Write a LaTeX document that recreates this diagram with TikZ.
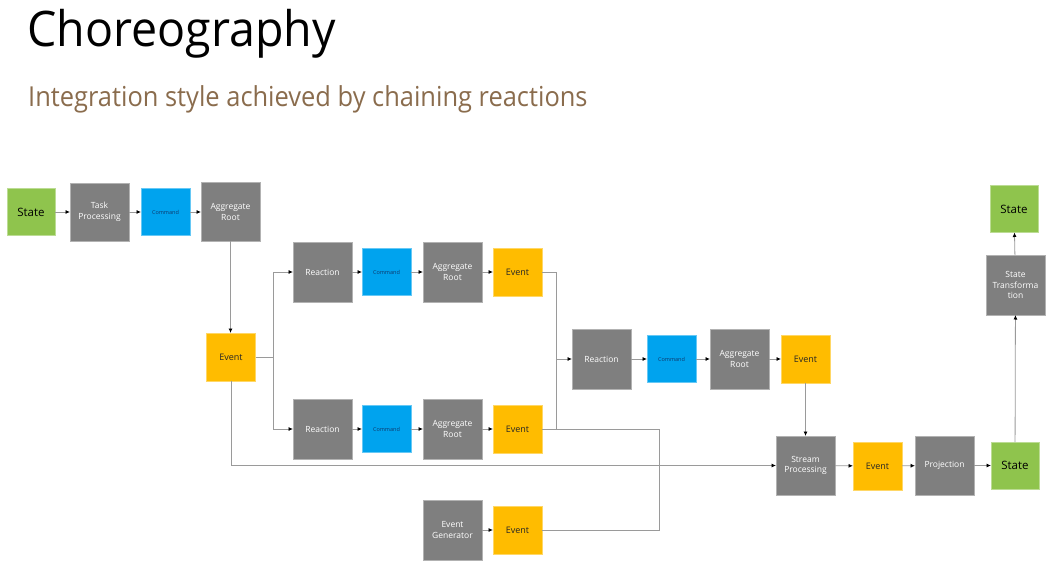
\documentclass[tikz,border=0pt]{standalone}
\usepackage{fontspec}
\setmainfont{Open Sans}
\usetikzlibrary{arrows.meta}
\definecolor{cgreen}{HTML}{8FC44D}
\definecolor{cgray}{HTML}{7F7F7F}
\definecolor{cblue}{HTML}{00A3EE}
\definecolor{corange}{HTML}{FFBC00}
\definecolor{csub}{HTML}{8A6C4D}
\definecolor{cline}{HTML}{9A9A9A}
\definecolor{cmdtext}{HTML}{0E3A6E}
\tikzset{
  base/.style={inner sep=0pt, outer sep=0pt, align=center, line width=0.6pt},
  graybox/.style={base, fill=cgray, draw=cgray!60!white, minimum width=59pt, minimum height=59pt, text=white, font=\fontsize{8.5}{10.5}\selectfont},
  cmdbox/.style={base, fill=cblue, draw=cblue!60!white, minimum width=49pt, minimum height=47pt, text=cmdtext, font=\fontsize{5.5}{7}\selectfont},
  evtbox/.style={base, fill=corange, draw=corange!60!white, minimum width=49pt, minimum height=48pt, text=black!85, font=\fontsize{9}{11}\selectfont},
  statebox/.style={base, fill=cgreen, draw=cgreen!60!white, minimum width=48pt, minimum height=47pt, text=black, font=\fontsize{11.5}{13}\selectfont},
  arr/.style={draw=cline, line width=0.8pt, -{Latex[length=4.5pt,width=4pt,black]}},
  ln/.style={draw=cline, line width=0.8pt},
}
\begin{document}
\begin{tikzpicture}[x=1pt,y=-1pt]
\useasboundingbox (0,0) rectangle (1046,569);
% titles
\node[anchor=base west, inner sep=0pt, font=\fontsize{49}{55}\selectfont] (title) at (27,47) {\scalebox{0.95}[1]{Choreography}};
\node[anchor=base west, inner sep=0pt, font=\fontsize{27.5}{32}\selectfont, text=csub] (sub) at (28,107) {\scalebox{0.925}[1]{Integration style achieved by chaining reactions}};
% row 1
\node[statebox] (s1) at (31,212) {State};
\node[graybox, minimum height=58pt] (tp) at (99.5,212) {Task\\Processing};
\node[cmdbox] (c1) at (165.5,212) {Command};
\node[graybox] (ar1) at (230.5,212) {Aggregate\\Root};
% left event
\node[evtbox] (e1) at (231,357) {Event};
% top chain
\node[graybox, minimum height=60pt] (rT) at (322.5,272) {Reaction};
\node[cmdbox] (cT) at (386.5,272) {Command};
\node[graybox, minimum height=60pt] (aT) at (452.5,272) {Aggregate\\Root};
\node[evtbox] (eT) at (517.5,272) {Event};
% bottom chain
\node[graybox, minimum height=60pt] (rB) at (322.5,429) {Reaction};
\node[cmdbox] (cB) at (386.5,429) {Command};
\node[graybox, minimum height=60pt] (aB) at (452.5,429) {Aggregate\\Root};
\node[evtbox] (eB) at (517.5,429) {Event};
% event generator
\node[graybox, minimum height=60pt] (gen) at (452.5,530) {Event\\Generator};
\node[evtbox] (eG) at (517.5,530) {Event};
% middle chain
\node[graybox, minimum height=60pt] (rM) at (601.5,359) {Reaction};
\node[cmdbox] (cM) at (671.5,359) {Command};
\node[graybox, minimum height=60pt] (aM) at (739.5,359) {Aggregate\\Root};
\node[evtbox] (eM) at (805.5,359) {Event};
% bottom right
\node[graybox] (sp) at (805.5,465.5) {Stream\\Processing};
\node[evtbox] (eR) at (877.5,466) {Event};
\node[graybox] (pr) at (944.5,465.5) {Projection};
\node[statebox] (s2) at (1015,465.5) {State};
\node[graybox, minimum height=60pt] (st) at (1015.5,285) {State\\Transforma\\tion};
\node[statebox] (s3) at (1014,209) {State};
% junction coordinates
\coordinate (jL) at (273,357);
\coordinate (jM) at (556,359);
\coordinate (jS) at (659,465.5);
% connectors
\draw[arr] (s1) -- (tp);
\draw[arr] (tp) -- (c1);
\draw[arr] (c1) -- (ar1.west |- c1);
\draw[arr] (ar1.south) -- (e1.north -| ar1.south);
\draw[ln] (e1.east) -- (jL);
\draw[arr] (jL) |- (rT.west);
\draw[arr] (jL) |- (rB.west);
\draw[arr] (rT) -- (cT);
\draw[arr] (cT) -- (aT);
\draw[arr] (aT) -- (eT);
\draw[arr] (rB) -- (cB);
\draw[arr] (cB) -- (aB);
\draw[arr] (aB) -- (eB);
\draw[arr] (gen) -- (eG);
\draw[arr] (eT.east) -| (jM) -- (rM.west);
\draw[ln] (eB.east) -| (jM);
\draw[ln] (eB.east) -| (jS);
\draw[ln] (eG.east) -| (jS);
\draw[arr] (jS) -- (sp.west);
\draw[ln] (e1.south) |- (jS);
\draw[arr] (rM) -- (cM);
\draw[arr] (cM) -- (aM);
\draw[arr] (aM) -- (eM);
\draw[arr] (eM) -- (sp);
\draw[arr] (sp) -- (eR);
\draw[arr] (eR) -- (pr);
\draw[arr] (pr) -- (s2);
\draw[arr] (s2) -- (st);
\draw[arr] (st) -- (s3);
\end{tikzpicture}
\end{document}
